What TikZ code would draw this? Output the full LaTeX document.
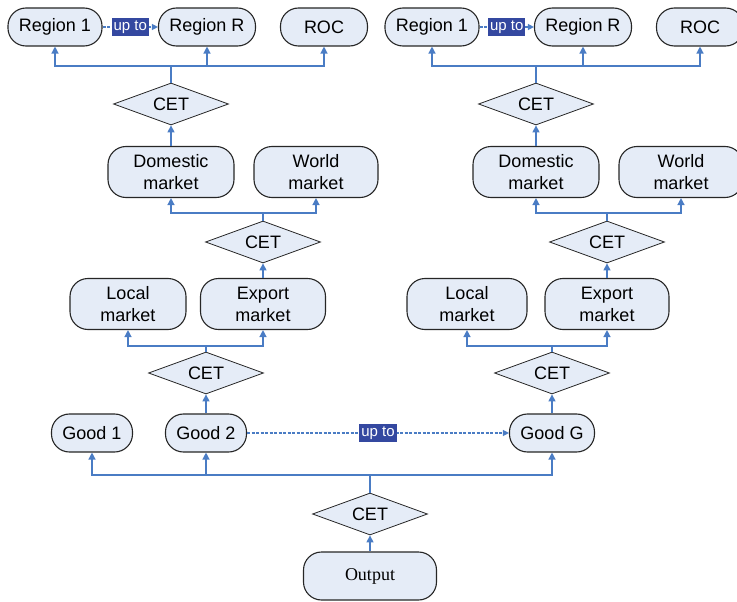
\documentclass[tikz,border=0pt]{standalone}
\usepackage{fontspec}
\setmainfont{Liberation Sans}
\newfontfamily\timesfont{Liberation Serif}
\usetikzlibrary{shapes.geometric,arrows.meta}
\definecolor{boxfill}{HTML}{E5ECF7}
\definecolor{linkblue}{HTML}{4A7CC4}
\definecolor{uptoblue}{HTML}{3448A0}

\begin{document}
\begin{tikzpicture}[x=1pt,y=-1pt,
    box/.style={draw=black!85,fill=boxfill,line width=1.1pt,rounded corners=18pt,
      minimum height=38pt,inner xsep=11pt,align=center,font=\fontsize{18}{22}\selectfont},
    tall/.style={minimum height=51pt},
    cet/.style={diamond,draw=black!85,fill=boxfill,line width=0.8pt,aspect=2.7,
      inner sep=0pt,minimum width=115pt,minimum height=42pt,font=\fontsize{18}{22}\selectfont},
    link/.style={draw=linkblue,line width=1.3pt,-{Triangle[width=7pt,length=7pt]}},
    dotlink/.style={draw=linkblue,line width=1.2pt,dash pattern=on 3pt off 1.5pt,
      -{Triangle[width=6pt,length=6pt]}},
    upto/.style={fill=uptoblue,text=white,inner xsep=2pt,inner ysep=3pt,
      font=\fontsize{15}{18}\selectfont}]
    \useasboundingbox (0,0) rectangle (737,602);
    % bus heights
    \coordinate (busA) at (0,66);
    \coordinate (busB) at (0,213);
    \coordinate (busC) at (0,346);
    \coordinate (busD) at (0,475);

    % left branch
    \node[box] (regL1) at (55,27) {Region 1};
    \node[box] (regLR) at (207,27) {Region R};
    \node[box,minimum width=87pt] (rocL) at (324,27) {ROC};
    \node[cet] (cetL1) at (171,104) {CET};
    \node[box,tall,minimum width=126pt] (domL) at (171,172) {Domestic\\market};
    \node[box,tall,minimum width=124pt] (worL) at (316,172) {World\\market};
    \node[cet] (cetL2) at (263,242) {CET};
    \node[box,tall,minimum width=116pt] (locL) at (128,304) {Local\\market};
    \node[box,tall,minimum width=125pt] (expL) at (263,304) {Export\\market};
    \node[cet] (cetL3) at (206,373) {CET};

    % right branch
    \node[box] (regR1) at (432,27) {Region 1};
    \node[box] (regRR) at (583,27) {Region R};
    \node[box,minimum width=87pt] (rocR) at (700,27) {ROC};
    \node[cet] (cetR1) at (536,104) {CET};
    \node[box,tall,minimum width=126pt] (domR) at (536,172) {Domestic\\market};
    \node[box,tall,minimum width=124pt] (worR) at (681,172) {World\\market};
    \node[cet] (cetR2) at (607,242) {CET};
    \node[box,tall,minimum width=120pt] (locR) at (467,304) {Local\\market};
    \node[box,tall,minimum width=124pt] (expR) at (607,304) {Export\\market};
    \node[cet] (cetR3) at (552,373) {CET};

    % goods and output
    \node[box] (good1) at (92,433) {Good 1};
    \node[box] (good2) at (206,433) {Good 2};
    \node[box] (goodG) at (552,433) {Good G};
    \node[cet] (cetO) at (370,514) {CET};
    \node[box,minimum width=133pt,minimum height=48pt,
      font=\timesfont\fontsize{18}{22}\selectfont] (output) at (370,576) {Output};

    % buses
    \foreach \n in {regL1,regLR,rocL}
      \draw[link] (cetL1.north) -- (cetL1.north |- busA) -| (\n.south);
    \foreach \n in {regR1,regRR,rocR}
      \draw[link] (cetR1.north) -- (cetR1.north |- busA) -| (\n.south);
    \foreach \n in {domL,worL}
      \draw[link] (cetL2.north) -- (cetL2.north |- busB) -| (\n.south);
    \foreach \n in {domR,worR}
      \draw[link] (cetR2.north) -- (cetR2.north |- busB) -| (\n.south);
    \foreach \n in {locL,expL}
      \draw[link] (cetL3.north) -- (cetL3.north |- busC) -| (\n.south);
    \foreach \n in {locR,expR}
      \draw[link] (cetR3.north) -- (cetR3.north |- busC) -| (\n.south);
    \foreach \n in {good1,good2,goodG}
      \draw[link] (cetO.north) -- (cetO.north |- busD) -| (\n.south);

    % into the CET nodes
    \draw[link] (domL.north) -- (cetL1.south);
    \draw[link] (domR.north) -- (cetR1.south);
    \draw[link] (expL.north) -- (cetL2.south);
    \draw[link] (expR.north) -- (cetR2.south);
    \draw[link] (good2.north) -- (cetL3.south);
    \draw[link] (goodG.north) -- (cetR3.south);
    \draw[link] (output.north) -- (cetO.south);

    % up to
    \draw[dotlink] (regL1.east) -- node[upto] {up to} (regLR.west);
    \draw[dotlink] (regR1.east) -- node[upto] {up to} (regRR.west);
    \draw[dotlink] (good2.east) -- node[upto] {up to} (goodG.west);
\end{tikzpicture}
\end{document}
